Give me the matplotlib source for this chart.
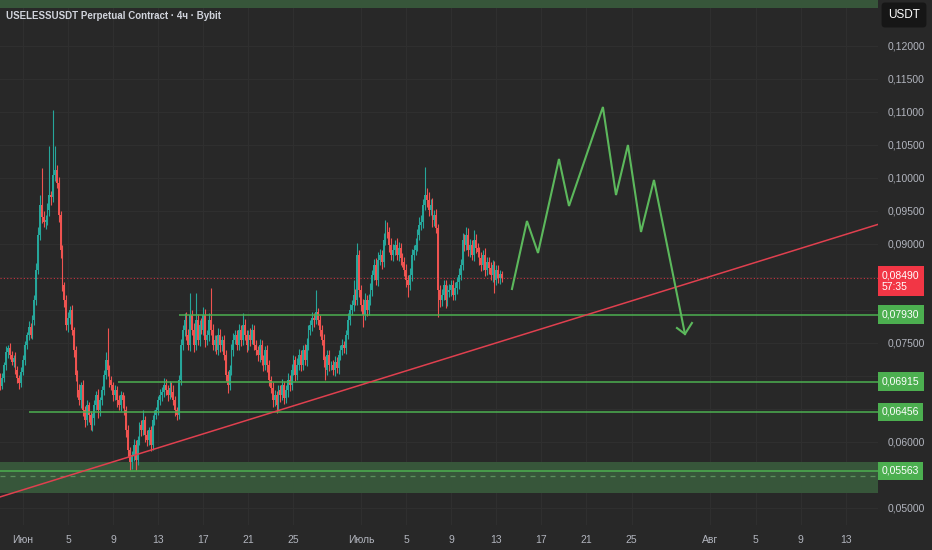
import numpy as np
import matplotlib
matplotlib.use("Agg")
import matplotlib.pyplot as plt
from matplotlib.transforms import blended_transform_factory
from matplotlib import font_manager

# ---------------- data (prices in 1e-5 USDT points) ----------------
first_open = 6985
closes = [
    6850, 6970, 7167, 7364, 7424, 7318,
    7212, 7273, 7091, 6970, 6894,
    7061, 7242, 7470, 7621, 7742, 7621,
    7848, 8152, 8606, 9136, 9591, 9409, 9333, 9364,
    9515, 9742, 9712, 10045, 10121, 9924,
    9439, 8909, 8379,
    8152, 7773, 7879, 8000, 7697,
    7394, 7015, 6788,
    6636, 6864, 6485, 6333, 6561,
    6409, 6258, 6364,
    6561, 6712, 6485, 6636, 6788,
    7015, 7242, 7091, 6939,
    6864, 6712, 6788, 6636, 6561,
    6712, 6636, 6485,
    6182, 5879, 5697, 5803,
    5955, 5727, 6030,
    6258, 6182, 6333,
    6106, 6030, 6182, 5955,
    6333, 6409, 6485,
    6636, 6712, 6758,
    6864, 6788, 6712, 6818, 6758, 6636,
    6485, 6409,
    6939, 7470, 7697,
    7848, 7621, 7470, 7924,
    7697, 7470, 7848, 7545, 7773,
    7697, 7924, 7545, 7621, 7848,
    7697, 7470, 7545, 7394, 7621, 7470, 7545,
    7318, 7015, 6864, 7091,
    7394, 7545, 7621, 7470, 7697,
    7545, 7773, 7621, 7470,
    7621, 7545, 7697, 7470, 7394,
    7318, 7470, 7242, 7167, 7394,
    7167, 6939, 6818,
    6636, 6712, 6561,
    6788, 6712, 6864, 6667, 6788, 6939, 6864,
    7091, 7242, 7015, 7167,
    7318, 7167, 7394, 7242, 7470, 7697,
    7773, 7879, 7848, 7970,
    7848, 7697, 7545,
    7242, 7091, 7318, 7167,
    7167, 7091, 7212, 7121,
    7318, 7394, 7470, 7424,
    7621, 7848, 8000, 8076,
    8227, 8152, 8833,
    8303, 8076, 7924, 8152,
    8000, 8152,
    8303, 8530, 8682, 8455,
    8758, 8833, 8727,
    9061, 9242, 9182,
    8985, 8833, 8909,
    8985, 8833, 8939, 8788, 8727,
    8606, 8455, 8379, 8530,
    8833, 8909, 8985,
    9136, 9288, 9333,
    9591, 9742, 9667,
    9515, 9591, 9364, 9439, 9242,
    8303,
    8152, 8227, 8379, 8152, 8273,
    8303, 8379, 8227, 8333, 8424,
    8530, 8682,
    9061, 8985, 9136,
    8909, 8985, 8833, 9061, 8939, 8879,
    8788, 8682, 8833, 8606, 8727, 8636,
    8530, 8682, 8455, 8606,
    8485, 8545, 8490,
]
upper_wicks = [
    60, 80, 50, 90, 40, 70, 60, 50, 90, 60, 40, 70, 80, 60, 50, 90, 60, 70, 80, 100,
    120, 150, 560, 90, 80, 110, 743, 60, 985, 364, 70, 90, 60, 80, 50, 70, 90, 60, 80, 50,
    60, 70, 90, 50, 80, 60, 70, 50, 60, 80, 70, 60, 90, 50, 60, 70, 122, 485, 80, 60,
    50, 70, 60, 80, 60, 50, 70, 60, 80, 50, 60, 90, 70, 60, 50, 80, 152, 60, 70, 50,
    60, 80, 70, 50, 60, 90, 70, 100, 90, 80, 110, 90, 100, 60, 50, 70, 90, 80, 100, 120,
    90, 334, 80, 100, 410, 90, 80, 100, 120, 90, 80, 100, 485, 90, 80, 70, 100, 90, 60, 80,
    70, 60, 80, 90, 100, 80, 70, 90, 80, 182, 90, 70, 80, 100, 90, 70, 80, 60, 90, 80,
    70, 60, 80, 70, 60, 90, 70, 60, 80, 70, 90, 60, 80, 100, 70, 90, 80, 60, 100, 90,
    80, 70, 90, 100, 80, 70, 90, 80, 333, 60, 80, 70, 90, 60, 80, 70, 60, 80, 90, 70,
    80, 70, 90, 60, 80, 100, 90, 80, 228, 90, 182, 80, 70, 90, 100, 80, 90, 100, 80, 90,
    100, 120, 90, 80, 100, 122, 90, 80, 100, 90, 80, 110, 90, 80, 70, 80, 90, 70, 100, 90,
    80, 100, 90, 120, 110, 90, 425, 100, 120, 90, 110, 80, 90, 60, 80, 90, 70, 80, 100, 90,
    80, 70, 90, 80, 100, 90, 110, 90, 122, 100, 90, 80, 151, 90, 80, 70, 90, 80, 100, 70,
    80, 90, 70, 60, 80, 70, 60, 40,
]
lower_wicks = [
    70, 50, 60, 80, 90, 60, 50, 70, 60, 80, 90, 60, 50, 70, 60, 80, 50, 60, 70, 80,
    60, 80, 90, 70, 100, 80, 90, 120, 70, 90, 80, 100, 120, 90, 100, 80, 110, 90, 80, 100,
    90, 100, 80, 120, 90, 100, 80, 110, 76, 90, 100, 80, 120, 90, 70, 80, 60, 90, 100, 80,
    90, 70, 100, 80, 90, 120, 80, 100, 110, 121, 100, 90, 151, 80, 70, 90, 80, 100, 90, 80,
    90, 70, 80, 60, 80, 70, 90, 80, 70, 90, 60, 80, 70, 90, 76, 60, 80, 70, 90, 80,
    70, 90, 80, 100, 70, 80, 90, 60, 80, 100, 70, 90, 80, 70, 90, 60, 80, 100, 90, 80,
    90, 122, 80, 70, 90, 60, 80, 70, 90, 80, 70, 100, 80, 90, 60, 80, 70, 90, 100, 80,
    90, 80, 100, 90, 80, 100, 90, 122, 80, 100, 70, 90, 80, 100, 90, 80, 70, 90, 80, 70,
    90, 80, 70, 90, 80, 70, 90, 100, 60, 80, 90, 70, 100, 152, 80, 90, 70, 80, 90, 70,
    90, 80, 70, 80, 90, 60, 80, 70, 90, 80, 70, 100, 90, 182, 80, 90, 70, 80, 90, 80,
    70, 90, 80, 100, 70, 80, 90, 100, 80, 90, 70, 80, 90, 100, 80, 90, 100, 182, 80, 90,
    80, 70, 90, 80, 70, 90, 80, 100, 90, 80, 100, 90, 80, 409, 100, 90, 80, 122, 90, 80,
    90, 80, 70, 90, 100, 80, 70, 90, 80, 90, 100, 80, 90, 70, 80, 100, 90, 80, 90, 80,
    90, 80, 100, 197, 80, 70, 90, 60,
]
start_day = -2.0          # days relative to 1 June (4h bars)
bar_days = 1.0 / 6.0

price_ticks = [0.050, 0.055, 0.060, 0.065, 0.070, 0.075, 0.080, 0.085,
               0.090, 0.095, 0.100, 0.105, 0.110, 0.115, 0.120]
hidden_ticks = [0.055, 0.065, 0.085]   # fully covered by the price tags
date_ticks = [0, 4, 8, 12, 16, 20, 24, 30, 34, 38, 42, 46, 50, 54, 61, 65, 69, 73]
date_labels = ["Июн", "5", "9", "13", "17", "21", "25", "Июль", "5", "9", "13",
               "17", "21", "25", "Авг", "5", "9", "13"]

level_prices = [0.07930, 0.06915, 0.06456, 0.05563]
level_starts = [13.84, 8.43, 0.53, -2.1]
zone_low, zone_high = 0.0523, 0.0570
zone_mid_dash = 0.0548
top_band_low = 0.1257
trend_days = [-2.04, 75.87]
trend_prices = [0.05167, 0.09297]
last_price = 0.08490
countdown = "57:35"

path_days = [43.39, 44.72, 45.70, 47.56, 48.45, 51.46, 52.62, 53.68, 54.84, 55.99, 58.74]
path_prices = [0.08318, 0.09348, 0.08864, 0.10288, 0.09576, 0.11076, 0.09742,
               0.10500, 0.09182, 0.09970, 0.07636]
head_days = [58.03, 58.74, 59.36]
head_prices = [0.07727, 0.07636, 0.07803]

title = "USELESSUSDT Perpetual Contract · 4ч · Bybit"

# ---------------- style ----------------
BG = "#282828"
UP = "#26a69a"
DOWN = "#ef5350"
GREEN = "#4caf50"
ZONE = "#37563a"
RED = "#e0404f"
TXT = "#b2b5be"

installed = {f.name for f in font_manager.fontManager.ttflist}
NARROW = "Liberation Sans Narrow" if "Liberation Sans Narrow" in installed else "Liberation Sans"
FAM = [NARROW, "DejaVu Sans"]
narrow_ok = NARROW == "Liberation Sans Narrow"

W, H = 932, 550
fig = plt.figure(figsize=(W / 100, H / 100), dpi=100, facecolor=BG)
ax = fig.add_axes([0, 25 / H, 878 / W, 525 / H])
ax.set_facecolor(BG)
ax.set_xlim(-2.041, 75.87)
ax.set_ylim(0.04742, 0.12697)
for s in ax.spines.values():
    s.set_visible(False)

# grid
for d in date_ticks:
    ax.axvline(d, color="#303030", lw=0.7, zorder=0)
for p in price_ticks:
    ax.axhline(p, color="#303030", lw=0.7, zorder=0)

# zones
ax.axhspan(top_band_low, 0.14, color=ZONE, lw=0, zorder=1)
ax.axhspan(zone_low, zone_high, color=ZONE, lw=0, zorder=1)
ax.axhline(zone_mid_dash, color="#5a8f5c", lw=0.9, ls=(0, (4, 4)), zorder=2)

# candles
n = len(closes)
assert len(upper_wicks) == n and len(lower_wicks) == n, (n, len(upper_wicks), len(lower_wicks))
c = np.array(closes, dtype=float) / 1e5
o = np.concatenate([[first_open], closes[:-1]]).astype(float) / 1e5
hi = np.maximum(o, c) + np.array(upper_wicks) / 1e5
lo = np.minimum(o, c) - np.array(lower_wicks) / 1e5
t = start_day + np.arange(n) * bar_days
cols = np.where(c >= o, UP, DOWN)
ax.vlines(t, lo, hi, colors=cols, lw=0.8, zorder=3)
ax.bar(t, np.maximum(np.abs(c - o), 0.00006), bottom=np.minimum(o, c), width=0.155,
       color=cols, lw=0, zorder=3)

# horizontal levels
xr = ax.get_xlim()[1]
for p, s in zip(level_prices, level_starts):
    ax.plot([s, xr], [p, p], color=GREEN, lw=1.1, zorder=4, solid_capstyle="butt")

# trend line
ax.plot(trend_days, trend_prices, color=RED, lw=1.1, zorder=4)

# last price dotted
ax.axhline(last_price, color="#f23645", lw=0.8, ls=(0, (1, 2)), alpha=0.8, zorder=2)

# projected path
ax.plot(path_days, path_prices, color="#5cb85c", lw=1.5, zorder=5, solid_joinstyle="miter")
ax.plot(head_days, head_prices, color="#5cb85c", lw=1.5, zorder=5, solid_joinstyle="miter")

# axes ticks
lab_size = 8.5 if narrow_ok else 7.5
ax.yaxis.tick_right()
ax.set_yticks(price_ticks)
ax.set_yticklabels(["" if p in hidden_ticks else f"{p:.5f}".replace(".", ",") for p in price_ticks])
ax.tick_params(axis="y", length=0, pad=7, labelsize=lab_size, labelcolor=TXT)
ax.set_xticks(date_ticks)
ax.set_xticklabels(date_labels)
ax.tick_params(axis="x", length=0, pad=7, labelsize=lab_size, labelcolor=TXT)
for lab in ax.get_xticklabels() + ax.get_yticklabels():
    lab.set_fontfamily(FAM)

# price label boxes
tr = blended_transform_factory(ax.transAxes, ax.transData)
for p in level_prices:
    ax.text(1.0045, p, f"{p:.5f}".replace(".", ","), transform=tr, ha="left", va="center",
            fontsize=lab_size, color="white", family=FAM,
            bbox=dict(boxstyle="square,pad=0.4", fc=GREEN, ec="none"), zorder=10, clip_on=False)
ax.text(1.0045, last_price + 0.0011, f"{last_price:.5f}".replace(".", ",") + "\n" + countdown,
        transform=tr, ha="left", va="top", fontsize=lab_size, color="white", linespacing=1.2,
        family=FAM,
        bbox=dict(boxstyle="square,pad=0.4", fc="#f23645", ec="none"), zorder=10, clip_on=False)

# header texts
fig.text(6 / W, 1 - 16 / H, title, ha="left", va="center", fontsize=8 if narrow_ok else 7,
         color="#d1d4dc", family=FAM, weight="bold")
fig.text(904 / W, 1 - 15 / H, "USDT", ha="center", va="center", fontsize=8.5, color="white",
         family=FAM,
         bbox=dict(boxstyle="round,pad=0.55,rounding_size=0.3", fc="#161616", ec="none"))

fig.savefig("out.png", dpi=100, facecolor=BG)
